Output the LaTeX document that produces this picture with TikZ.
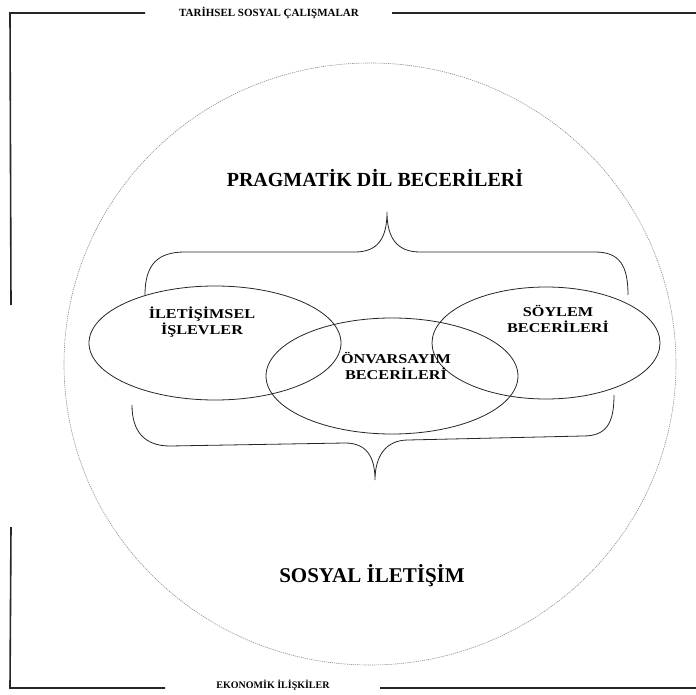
\documentclass[tikz,border=0pt]{standalone}
\usepackage{fontspec}
\setmainfont{Liberation Serif}
\newfontfamily\widefont[FakeStretch=1.2]{Liberation Serif}
\usetikzlibrary{shapes.geometric}
\begin{document}
\begin{tikzpicture}[x=1pt,y=-1pt,
  frame/.style={line width=1.6pt,black!85},
  venn/.style={draw,ellipse,line width=0.8pt,black!85,inner sep=0pt},
  bracepath/.style={line width=0.8pt,black!85},
  lbl/.style={font=\bfseries,align=center,inner sep=0pt},
  vlbl/.style={align=center,inner sep=0pt,font=\widefont\bfseries\fontsize{13.5}{15.5}\selectfont},
  dotcircle/.style={draw=black!45,line width=0.6pt,dash pattern=on 1.2pt off 0.9pt}]
\useasboundingbox (0,0) rectangle (696,695);
% outer frame
\coordinate (tl1) at (10,13); \coordinate (tl2) at (145,13);
\coordinate (tv2) at (11,305);
\coordinate (tr1) at (392,13); \coordinate (tr2) at (696,13);
\coordinate (bv1) at (11,527);
\coordinate (bl1) at (10,688); \coordinate (bl2) at (165,688);
\coordinate (br1) at (380,688); \coordinate (br2) at (696,688);
\draw[frame] (tl2) -- (tl1) -- (tv2);
\draw[frame] (tr1) -- (tr2);
\draw[frame] (bv1) -- (bl1) -- (bl2);
\draw[frame] (br1) -- (br2);
\node[lbl,font=\bfseries\fontsize{11}{12}\selectfont] (top) at (269,13) {TARİHSEL SOSYAL ÇALIŞMALAR};
\node[lbl,font=\bfseries\fontsize{10}{12}\selectfont] (bot) at (273,685) {EKONOMİK İLİŞKİLER};
% dotted circle
\node[dotcircle,ellipse,minimum width=612pt,minimum height=602pt,inner sep=0pt] (circ) at (370,364) {};
% titles
\node[lbl,font=\bfseries\fontsize{20}{22}\selectfont] (prag) at (375,178) {PRAGMATİK DİL BECERİLERİ};
\node[lbl,font=\bfseries\fontsize{21}{22}\selectfont] (sos) at (372,576) {SOSYAL İLETİŞİM};
% ellipses
\node[venn,minimum width=252pt,minimum height=114pt] (e1) at (215,343) {};
\node[venn,minimum width=252pt,minimum height=116pt] (e2) at (392,376) {};
\node[venn,minimum width=228pt,minimum height=112pt] (e3) at (546,343) {};
\node[vlbl] (t1) at (202,322) {İLETİŞİMSEL\\İŞLEVLER};
\node[vlbl] (t2) at (396,366) {ÖNVARSAYIM\\BECERİLERİ};
\node[vlbl] (t3) at (558,319) {SÖYLEM\\BECERİLERİ};
% braces
\draw[bracepath] (145,295) .. controls (145,264) and (158,252) .. (185,252) -- (355,252)
  .. controls (378,252) and (387,238) .. (387,212)
  .. controls (387,238) and (397,252) .. (420,252) -- (595,252)
  .. controls (620,252) and (628,266) .. (628,295);
\draw[bracepath] (132,405) .. controls (132,432) and (145,446) .. (170,446) -- (345,443)
  .. controls (366,443) and (375,456) .. (375,480)
  .. controls (375,456) and (386,440) .. (408,440) -- (583,436)
  .. controls (606,436) and (614,424) .. (614,395);
\end{tikzpicture}
\end{document}
